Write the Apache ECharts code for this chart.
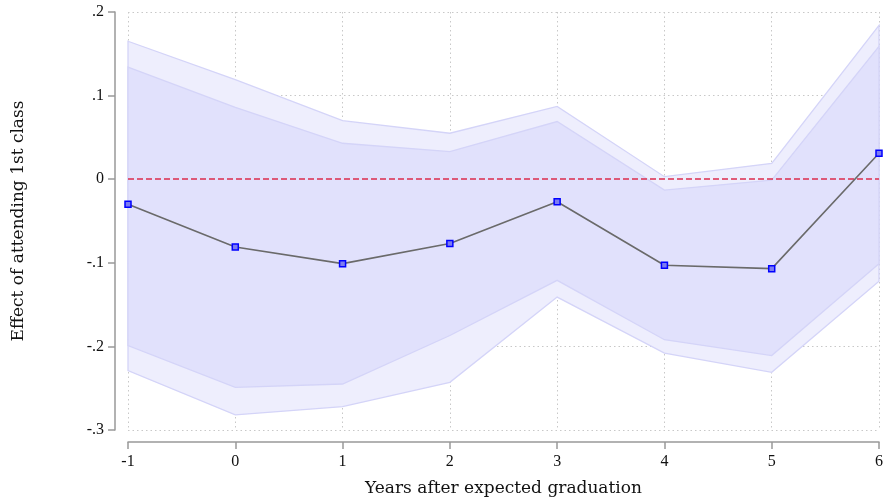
<!DOCTYPE html>
<html><head><meta charset="utf-8">
<script src="https://cdn.jsdelivr.net/npm/echarts@6/dist/echarts.min.js"></script>
<style>html,body{margin:0;padding:0;background:#fff}#c{width:886px;height:504px}</style>
</head><body><div id="c"></div>
<script>
var years = [-1, 0, 1, 2, 3, 4, 5, 6];
var estimate = [-0.030, -0.081, -0.101, -0.077, -0.027, -0.103, -0.107, 0.031];
var outerUpper = [0.165, 0.119, 0.070, 0.055, 0.087, 0.003, 0.019, 0.184];
var outerLower = [-0.229, -0.282, -0.272, -0.243, -0.141, -0.208, -0.231, -0.122];
var innerUpper = [0.134, 0.086, 0.043, 0.033, 0.069, -0.013, -0.001, 0.159];
var innerLower = [-0.199, -0.249, -0.245, -0.187, -0.121, -0.192, -0.211, -0.101];

function pairs(a){ return years.map(function(x,i){ return [x, a[i]]; }); }
function fmt(v){
  if (Math.abs(v) < 1e-9) return '0';
  return v.toFixed(1).replace('0.', '.');
}
var serif = 'DejaVu Serif';
var tickFont = 'Liberation Serif';
var edge = '#d4d4f8';
function band(upper, lower, fill, z){
  return {
    type: 'custom', z: z, silent: true,
    data: pairs(upper).concat(pairs(lower)),
    encode: {x: 0, y: 1},
    renderItem: function(params, api){
      if (params.dataIndex !== 0) return null;
      var pts = [];
      for (var i = 0; i < years.length; i++) pts.push(api.coord([years[i], upper[i]]));
      for (var j = years.length - 1; j >= 0; j--) pts.push(api.coord([years[j], lower[j]]));
      return {type: 'polygon', shape: {points: pts},
        style: {fill: fill, stroke: edge, lineWidth: 1.3}};
    }
  };
}
var chart = echarts.init(document.getElementById('c'));
chart.setOption({
  animation: false,
  grid: {left: 128, right: 5, top: 12, bottom: 74},
  xAxis: {
    type: 'value', min: -1, max: 6, interval: 1, offset: 12,
    name: 'Years after expected graduation', nameLocation: 'middle', nameGap: 38,
    nameTextStyle: {fontFamily: serif, fontSize: 17, color: '#111'},
    axisLine: {show: true, onZero: false, lineStyle: {color: '#999', width: 1.5}},
    axisTick: {show: true, length: 7, lineStyle: {color: '#999', width: 1.5}},
    axisLabel: {fontFamily: tickFont, fontSize: 16, color: '#111', margin: 12},
    splitLine: {show: true, lineStyle: {color: '#c8c8c8', type: [1.5, 3], width: 1}}
  },
  yAxis: {
    type: 'value', min: -0.3, max: 0.2, interval: 0.1, offset: 13,
    name: 'Effect of attending 1st class', nameLocation: 'middle', nameGap: 88,
    nameTextStyle: {fontFamily: serif, fontSize: 17, color: '#111'},
    axisLine: {show: true, onZero: false, lineStyle: {color: '#999', width: 1.5}},
    axisTick: {show: true, length: 7, lineStyle: {color: '#999', width: 1.5}},
    axisLabel: {fontFamily: tickFont, fontSize: 16, color: '#111', margin: 11, formatter: fmt},
    splitLine: {show: true, lineStyle: {color: '#c8c8c8', type: [1.5, 3], width: 1}}
  },
  series: [
    band(outerUpper, outerLower, '#eeeefd', 1),
    band(innerUpper, innerLower, '#e1e1fc', 2),
    {type: 'line', data: pairs(estimate), z: 5,
     symbol: 'rect', symbolSize: 6,
     lineStyle: {color: '#6a6a6a', width: 1.6},
     itemStyle: {color: '#7c7cf0', borderColor: '#0000ff', borderWidth: 1.5},
     markLine: {silent: true, symbol: 'none', label: {show: false},
       lineStyle: {color: '#dc2c4c', type: [6, 3], width: 1.5},
       data: [{yAxis: 0}]}
    }
  ]
});
</script></body></html>
